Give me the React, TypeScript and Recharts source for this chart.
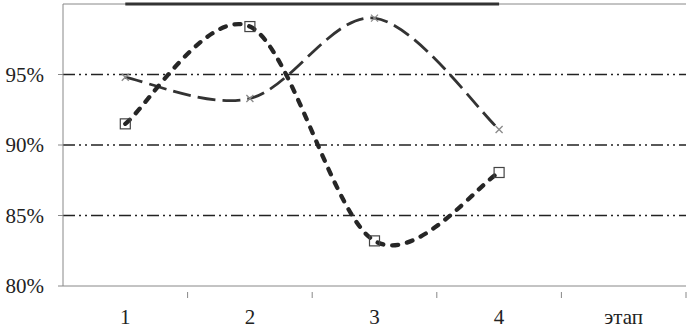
import {
  Line,
  LineChart,
  ReferenceLine,
  XAxis,
  YAxis,
} from 'recharts'

const etapy = ['1', '2', '3', '4', 'этап']
const seriyaKrest = [94.8, 93.3, 99.0, 91.1, null]
const seriyaKvadrat = [91.5, 98.4, 83.2, 88.05, null]
const seriyaVerh = [100, 100, 100, 100, null]
const yTiki = [80, 85, 90, 95]
const setka = [85, 90, 95]

const dannye = etapy.map((etap, i) => ({
  etap,
  krest: seriyaKrest[i],
  kvadrat: seriyaKvadrat[i],
  verh: seriyaVerh[i],
}))

const SERIF = "'Liberation Serif', 'Times New Roman', serif"

// сглаживание как в Excel (Catmull-Rom -> Безье)
const excelCurve = (ctx) => {
  let pts = []
  return {
    areaStart() {},
    areaEnd() {},
    lineStart() {
      pts = []
    },
    point(x, y) {
      pts.push([+x, +y])
    },
    lineEnd() {
      if (!pts.length) return
      ctx.moveTo(pts[0][0], pts[0][1])
      if (pts.length === 1) {
        ctx.lineTo(pts[0][0], pts[0][1])
        return
      }
      for (let i = 0; i < pts.length - 1; i++) {
        const p0 = pts[i - 1] || pts[i]
        const p1 = pts[i]
        const p2 = pts[i + 1]
        const p3 = pts[i + 2] || pts[i + 1]
        ctx.bezierCurveTo(
          p1[0] + (p2[0] - p0[0]) / 6,
          p1[1] + (p2[1] - p0[1]) / 6,
          p2[0] - (p3[0] - p1[0]) / 6,
          p2[1] - (p3[1] - p1[1]) / 6,
          p2[0],
          p2[1]
        )
      }
    },
  }
}

const Kvadrat = ({ cx, cy, index }) => {
  if (cx == null || cy == null) return <g key={index} />
  return (
    <rect key={index} x={cx - 5} y={cy - 5} width={10} height={10} fill="none" stroke="#444" strokeWidth={1.2} />
  )
}

const Krest = ({ cx, cy, index }) => {
  if (cx == null || cy == null) return <g key={index} />
  return (
    <g key={index} stroke="#8a8a8a" strokeWidth={1.3}>
      <line x1={cx - 3.5} y1={cy - 3.5} x2={cx + 3.5} y2={cy + 3.5} />
      <line x1={cx - 3.5} y1={cy + 3.5} x2={cx + 3.5} y2={cy - 3.5} />
    </g>
  )
}

// подпись по центру, засечка на границе категории
const XTik = ({ x, y, payload }) => {
  const shag = 124.6
  return (
    <g>
      <line x1={x + shag / 2} y1={y - 15} x2={x + shag / 2} y2={y - 9} stroke="#888" strokeWidth={1} />
      <text x={x} y={y + 2} dy="0.71em" textAnchor="middle" fill="#222" fontSize={21} style={{ fontFamily: SERIF }}>
        {payload.value}
      </text>
    </g>
  )
}

const YTik = ({ x, y, payload }) => (
  <text x={x} y={y} dy="0.355em" textAnchor="end" fill="#222" fontSize={21} style={{ fontFamily: SERIF }}>
    {`${payload.value}%`}
  </text>
)

export default function App() {
  return (
    <div style={{ position: 'absolute', left: 0, top: 0, background: '#fff', fontFamily: SERIF }}>
      <LineChart
        width={689}
        height={331}
        data={dannye}
        margin={{ top: 4, right: 3, left: 0, bottom: 0 }}
      >
        <XAxis
          dataKey="etap"
          scale="band"
          height={45}
          axisLine={{ stroke: '#888', strokeWidth: 1 }}
          tickLine={false}
          tickMargin={15}
          tick={<XTik />}
          interval={0}
        />
        <YAxis
          yAxisId="l"
          domain={[80, 100]}
          ticks={yTiki}
          width={63}
          axisLine={{ stroke: '#888', strokeWidth: 1 }}
          tickLine={{ stroke: '#888' }}
          tickSize={5}
          tickMargin={14}
          tick={<YTik />}
        />
        <YAxis
          yAxisId="r"
          orientation="right"
          width={0}
          domain={[80, 100]}
          axisLine={{ stroke: '#888', strokeWidth: 1 }}
          tick={false}
          tickLine={false}
        />
        <ReferenceLine yAxisId="l" y={100} stroke="#888" strokeWidth={1} />
        {setka.map((v) => (
          <ReferenceLine
            key={v}
            yAxisId="l"
            y={v}
            stroke="#222"
            strokeWidth={1.5}
            strokeDasharray="12 4 2 4 2 4"
          />
        ))}
        <Line
          yAxisId="l"
          dataKey="verh"
          type="linear"
          stroke="#333"
          strokeWidth={3}
          dot={false}
          isAnimationActive={false}
        />
        <Line
          yAxisId="l"
          dataKey="krest"
          type={excelCurve}
          stroke="#333"
          strokeWidth={2.8}
          strokeDasharray="18 7"
          dot={<Krest />}
          isAnimationActive={false}
        />
        <Line
          yAxisId="l"
          dataKey="kvadrat"
          type={excelCurve}
          stroke="#262626"
          strokeWidth={4.3}
          strokeDasharray="6 9"
          strokeLinecap="round"
          dot={<Kvadrat />}
          isAnimationActive={false}
        />
      </LineChart>
    </div>
  )
}
